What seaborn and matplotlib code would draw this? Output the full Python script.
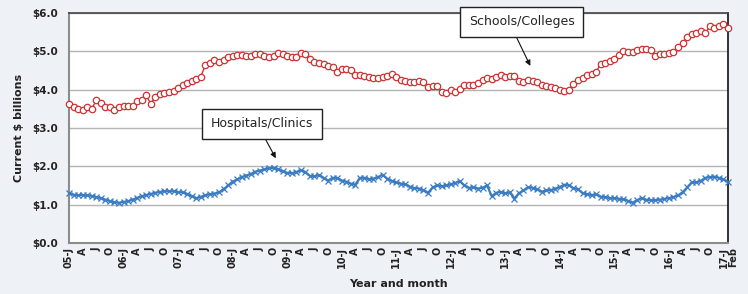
import numpy as np
import pandas as pd
import matplotlib
matplotlib.use('Agg')
import matplotlib.pyplot as plt
import matplotlib.transforms as mtransforms
import seaborn as sns

# monthly values, Jan 2005 .. Feb 2017 (current $ billions)
schools = [3.62, 3.55, 3.49, 3.48, 3.54, 3.50, 3.72, 3.65, 3.55, 3.55, 3.47, 3.55,
           3.57, 3.57, 3.58, 3.71, 3.74, 3.85, 3.63, 3.82, 3.88, 3.90, 3.93, 3.97,
           4.04, 4.11, 4.18, 4.22, 4.27, 4.34, 4.64, 4.69, 4.77, 4.73, 4.78, 4.84,
           4.87, 4.90, 4.90, 4.87, 4.87, 4.94, 4.92, 4.87, 4.85, 4.87, 4.96, 4.92,
           4.88, 4.86, 4.86, 4.95, 4.93, 4.80, 4.72, 4.70, 4.66, 4.62, 4.60, 4.45,
           4.53, 4.55, 4.50, 4.38, 4.38, 4.35, 4.32, 4.31, 4.31, 4.34, 4.36, 4.42,
           4.32, 4.25, 4.22, 4.20, 4.20, 4.22, 4.21, 4.08, 4.09, 4.10, 3.95, 3.92,
           3.98, 3.94, 4.03, 4.13, 4.13, 4.13, 4.18, 4.26, 4.31, 4.28, 4.34, 4.38,
           4.34, 4.36, 4.36, 4.22, 4.20, 4.25, 4.23, 4.19, 4.12, 4.09, 4.06, 4.04,
           4.00, 3.97, 4.00, 4.16, 4.26, 4.31, 4.37, 4.42, 4.47, 4.67, 4.70, 4.75,
           4.80, 4.91, 5.01, 4.98, 4.97, 5.03, 5.07, 5.05, 5.04, 4.88, 4.93, 4.93,
           4.96, 4.97, 5.10, 5.22, 5.37, 5.45, 5.49, 5.53, 5.47, 5.65, 5.60, 5.67,
           5.72, 5.62]

hospitals = [1.30, 1.26, 1.25, 1.25, 1.24, 1.23, 1.20, 1.17, 1.13, 1.09, 1.06, 1.05,
             1.07, 1.09, 1.13, 1.18, 1.22, 1.25, 1.28, 1.31, 1.33, 1.35, 1.35, 1.35,
             1.33, 1.32, 1.28, 1.22, 1.17, 1.20, 1.25, 1.27, 1.29, 1.32, 1.40, 1.50,
             1.60, 1.66, 1.72, 1.76, 1.80, 1.86, 1.89, 1.92, 1.95, 1.96, 1.92, 1.87,
             1.83, 1.82, 1.85, 1.90, 1.85, 1.75, 1.74, 1.77, 1.70, 1.63, 1.70, 1.70,
             1.63, 1.60, 1.55, 1.52, 1.70, 1.70, 1.66, 1.68, 1.72, 1.78, 1.68, 1.62,
             1.58, 1.55, 1.53, 1.47, 1.43, 1.42, 1.38, 1.31, 1.45, 1.50, 1.48, 1.50,
             1.53, 1.57, 1.61, 1.50, 1.44, 1.45, 1.42, 1.44, 1.50, 1.22, 1.31, 1.33,
             1.30, 1.32, 1.16, 1.30, 1.37, 1.45, 1.44, 1.40, 1.34, 1.37, 1.38, 1.42,
             1.46, 1.52, 1.50, 1.43, 1.40, 1.30, 1.27, 1.25, 1.27, 1.21, 1.20, 1.17,
             1.17, 1.15, 1.14, 1.10, 1.05, 1.12, 1.17, 1.13, 1.11, 1.12, 1.13, 1.15,
             1.17, 1.20, 1.24, 1.32, 1.45, 1.58, 1.58, 1.62, 1.70, 1.72, 1.73, 1.70,
             1.66, 1.59]

years = ['05', '06', '07', '08', '09', '10', '11', '12', '13', '14', '15', '16', '17']
quarter_letters = ['J', 'A', 'J', 'O']
last_label = 'Feb'
y_ticks = [0, 1, 2, 3, 4, 5, 6]

n = len(schools)
df = pd.DataFrame({'idx': np.arange(n), 'schools': schools, 'hospitals': hospitals})

# tick labels every 3 months, plus the last month
xlabels = []
for i in range(n):
    if i == n - 1:
        xlabels.append(last_label)
    elif i % 3 == 0:
        q = (i % 12) // 3
        xlabels.append(years[i // 12] + '-J' if q == 0 else quarter_letters[q])
    else:
        xlabels.append('')

sns.set_style('white')
plt.rcParams['font.family'] = ['DejaVu Sans']

bg = '#eef1f6'
red = '#cc3333'
blue = '#3a7cc4'
txt = '#222222'

fig = plt.figure(figsize=(7.48, 2.94), dpi=100, facecolor=bg)
ax = fig.add_axes([0.0922, 0.1735, 0.8811, 0.7823])
ax.set_facecolor('white')

sns.lineplot(data=df, x='idx', y='schools', ax=ax, color=red, lw=1,
             marker='o', markersize=4.6, markerfacecolor='white',
             markeredgecolor=red, markeredgewidth=0.9, clip_on=False, zorder=4)
sns.lineplot(data=df, x='idx', y='hospitals', ax=ax, color=blue, lw=1.6,
             marker='x', markersize=4, markeredgecolor=blue,
             markeredgewidth=0.9, clip_on=False, zorder=3)

ax.set_xlim(0, n - 1)
ax.set_ylim(0, 6)
ax.set_yticks(y_ticks)
ax.set_yticklabels(['${:.1f}'.format(v) for v in y_ticks], fontsize=7.5,
                   fontweight='bold', color=txt)
ax.yaxis.grid(True, color='#b4b4b4', lw=1)
ax.set_axisbelow(True)

ax.set_xticks(np.arange(n))
ax.set_xticklabels(xlabels, rotation=90, fontsize=7, fontweight='bold', color=txt)
ax.tick_params(axis='x', direction='in', length=2.5, width=0.8, color='#888888', pad=3)
ax.tick_params(axis='y', length=0, pad=8)

# nudge the "Feb" label to the right so it clears "17-J"
last = ax.get_xticklabels()[-1]
last.set_transform(last.get_transform() +
                   mtransforms.ScaledTranslation(5 / 100, 0, fig.dpi_scale_trans))

for side in ['left', 'bottom']:
    ax.spines[side].set_color('#8c8c8c')
    ax.spines[side].set_linewidth(1.5)
ax.spines['top'].set_color('#444444')
ax.spines['top'].set_linewidth(1.2)
ax.spines['right'].set_color('#111111')
ax.spines['right'].set_linewidth(1.2)

ax.set_xlabel('Year and month', fontsize=8, fontweight='bold', color=txt, labelpad=8)
ax.set_ylabel('Current $ billions', fontsize=8, fontweight='bold', color=txt, labelpad=6)

box = dict(boxstyle='square,pad=0.7', fc='white', ec='#222222', lw=1)
ax.annotate('Schools/Colleges', xy=(101.5, 4.62), xytext=(99.6, 5.77),
            textcoords='data', fontsize=9, ha='center', va='center', color=txt,
            bbox=box, annotation_clip=False,
            arrowprops=dict(arrowstyle='-|>', color='#111111', lw=0.8,
                            mutation_scale=8, shrinkA=0, shrinkB=0,
                            relpos=(0.41, 0.0)), zorder=6)
ax.annotate('Hospitals/Clinics', xy=(45.5, 2.21), xytext=(42.4, 3.11),
            textcoords='data', fontsize=9, ha='center', va='center', color=txt,
            bbox=box, annotation_clip=False,
            arrowprops=dict(arrowstyle='-|>', color='#111111', lw=0.8,
                            mutation_scale=8, shrinkA=0, shrinkB=0,
                            relpos=(0.49, 0.0)), zorder=6)

fig.savefig('out.png', dpi=100, facecolor=bg)
